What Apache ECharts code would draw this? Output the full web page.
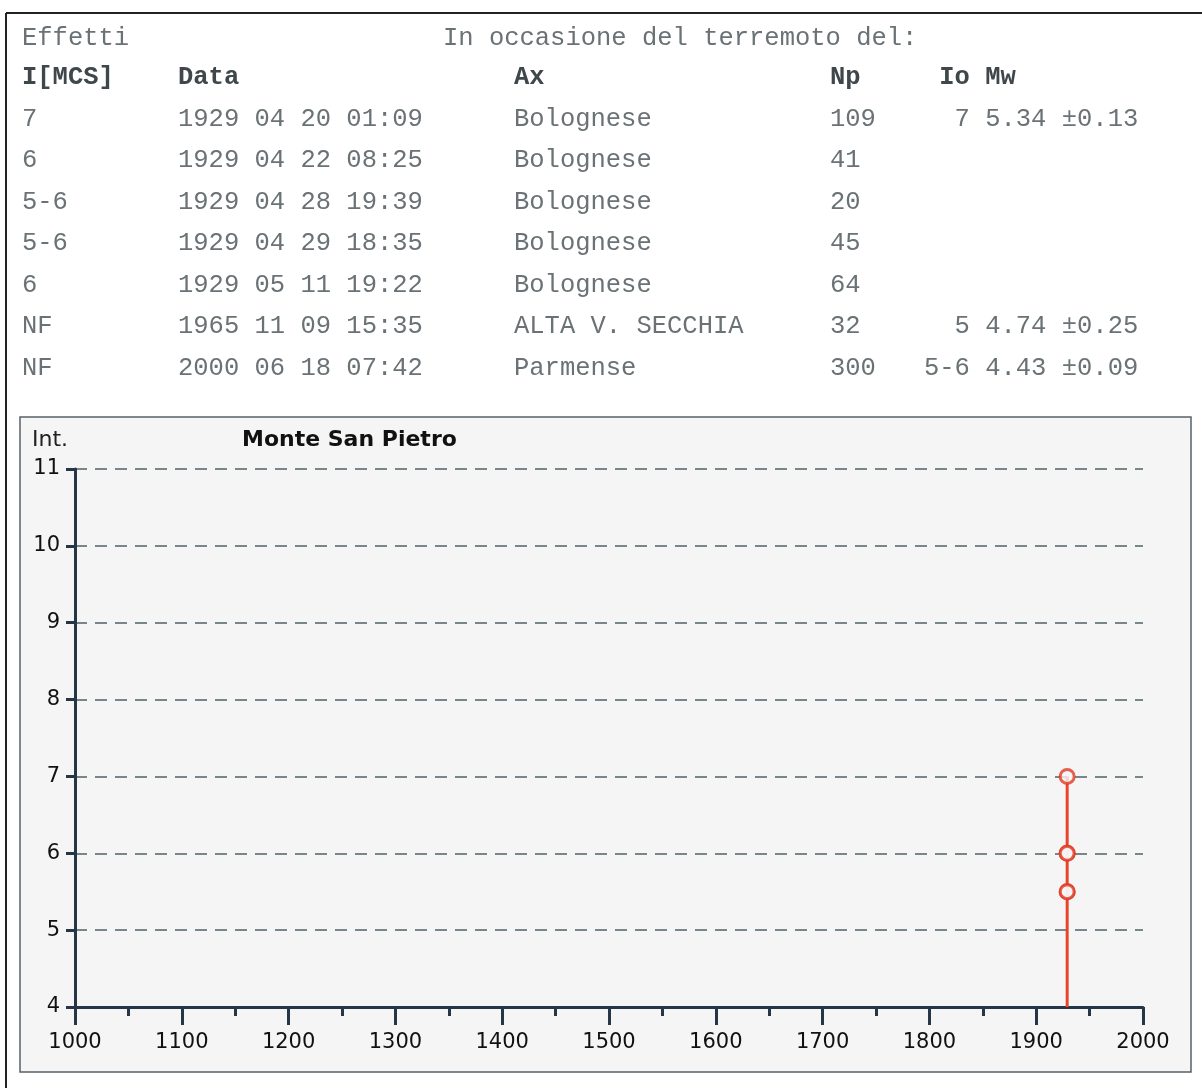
<!DOCTYPE html>
<html>
<head>
<meta charset="utf-8">
<script src="https://cdn.jsdelivr.net/npm/echarts@6/dist/echarts.min.js"></script>
<style>
html,body{margin:0;padding:0;background:#fff;}
#c{width:1202px;height:1088px;}
</style>
</head>
<body>
<div id="c"></div>
<script>
// ---- data ----
const intensities = ['7', '6', '5-6', '5-6', '6', 'NF', 'NF'];
const dates = ['1929 04 20 01:09', '1929 04 22 08:25', '1929 04 28 19:39', '1929 04 29 18:35', '1929 05 11 19:22', '1965 11 09 15:35', '2000 06 18 07:42'];
const areas = ['Bolognese', 'Bolognese', 'Bolognese', 'Bolognese', 'Bolognese', 'ALTA V. SECCHIA', 'Parmense'];
const nps = ['109', '41', '20', '45', '64', '32', '300'];
const ios = ['7', '', '', '', '', '5', '5-6'];
const mws = ['5.34 \u00b10.13', '', '', '', '', '4.74 \u00b10.25', '4.43 \u00b10.09'];
const headers = ['I[MCS]', 'Data', 'Ax', 'Np', ' Io Mw'];
const topLeft = 'Effetti';
const topMid = 'In occasione del terremoto del:';
const placeName = 'Monte San Pietro';
const yName = 'Int.';
const xTicks = [1000, 2000, 100];
const yTicks = [4, 11, 1];

// ---- derived ----
function intVal(s) {
  if (s === 'NF') return null;
  if (s.indexOf('-') >= 0) { const p = s.split('-').map(Number); return (p[0] + p[1]) / 2; }
  return Number(s);
}
const points = [];
dates.forEach((d, i) => {
  const v = intVal(intensities[i]);
  if (v !== null) points.push([parseInt(d.slice(0, 4), 10), v]);
});
const stemMap = {};
points.forEach(p => { stemMap[p[0]] = Math.max(stemMap[p[0]] || -Infinity, p[1]); });
const stemSeries = Object.keys(stemMap).map(yr => ({
  type: 'line', data: [[+yr, yTicks[0]], [+yr, stemMap[yr]]], symbol: 'none',
  lineStyle: { color: '#e8452c', width: 3 }, z: 3, silent: true
}));

// ---- table graphics ----
const mono = "'Liberation Mono', 'Courier New', monospace";
const sans = "'DejaVu Sans', Verdana, sans-serif";
const txtColor = '#6a7275';
const colX = [22, 178, 514, 830, 924];
const rowY0 = 119, rowDy = 41.5;
const g = [];
function addText(s, x, y, bold, color) {
  g.push({ type: 'text', x: x, y: y, style: { text: s, font: (bold ? 'bold ' : '') + '25.5px ' + mono, fill: color || txtColor, verticalAlign: 'middle' } });
}
addText(topLeft, colX[0], 38);
addText(topMid, 443, 38);
headers.forEach((h, j) => addText(h, colX[j], 78, true, '#3f474b'));
intensities.forEach((s, i) => {
  const y = rowY0 + i * rowDy;
  addText(s, colX[0], y);
  addText(dates[i], colX[1], y);
  addText(areas[i], colX[2], y);
  addText(nps[i], colX[3], y);
  if (ios[i]) addText(ios[i].padStart(3, ' ') + ' ' + mws[i], colX[4], y);
});
g.push({ type: 'line', shape: { x1: 6, y1: 13, x2: 1202, y2: 13 }, style: { stroke: '#222', lineWidth: 2 } });
g.push({ type: 'line', shape: { x1: 6, y1: 13, x2: 6, y2: 1088 }, style: { stroke: '#222', lineWidth: 2 } });
g.push({ type: 'rect', shape: { x: 20, y: 417, width: 1171, height: 655 }, style: { fill: '#f5f5f5', stroke: '#55616a', lineWidth: 1.5 }, z: -10 });
g.push({ type: 'text', x: 32, y: 440, style: { text: yName, font: '22px ' + sans, fill: '#222', verticalAlign: 'middle' } });
g.push({ type: 'text', x: 242, y: 440, style: { text: placeName, font: 'bold 22px ' + sans, fill: '#111', verticalAlign: 'middle' } });

const axisColor = '#263646';
const option = {
  animation: false,
  graphic: g,
  grid: { left: 75, right: 59, top: 469, bottom: 81, containLabel: false },
  xAxis: {
    type: 'value', min: xTicks[0], max: xTicks[1], interval: xTicks[2],
    axisLine: { show: true, onZero: false, lineStyle: { color: axisColor, width: 3 } },
    axisTick: { show: true, length: 18, lineStyle: { color: axisColor, width: 3 } },
    minorTick: { show: true, splitNumber: 2, length: 9, lineStyle: { color: axisColor, width: 3 } },
    axisLabel: { margin: 25, color: '#111', fontSize: 21, fontFamily: sans, formatter: v => String(v) },
    splitLine: { show: false }
  },
  yAxis: {
    type: 'value', min: yTicks[0], max: yTicks[1], interval: yTicks[2],
    axisLine: { show: true, onZero: false, lineStyle: { color: axisColor, width: 3 } },
    axisTick: { show: true, length: 9, lineStyle: { color: axisColor, width: 3 } },
    axisLabel: { margin: 15, color: '#111', fontSize: 21, fontFamily: sans, formatter: v => String(v) },
    splitLine: { show: true, lineStyle: { color: '#4f6068', width: 1.5, type: [12, 8] } }
  },
  series: stemSeries.concat([{
    type: 'scatter', data: points, symbol: 'circle', symbolSize: 14,
    itemStyle: { color: '#f5f5f5', borderColor: '#e23a24', borderWidth: 3 }, z: 4
  }])
};
const chart = echarts.init(document.getElementById('c'), null, { renderer: 'canvas' });
chart.setOption(option);
</script>
</body>
</html>
